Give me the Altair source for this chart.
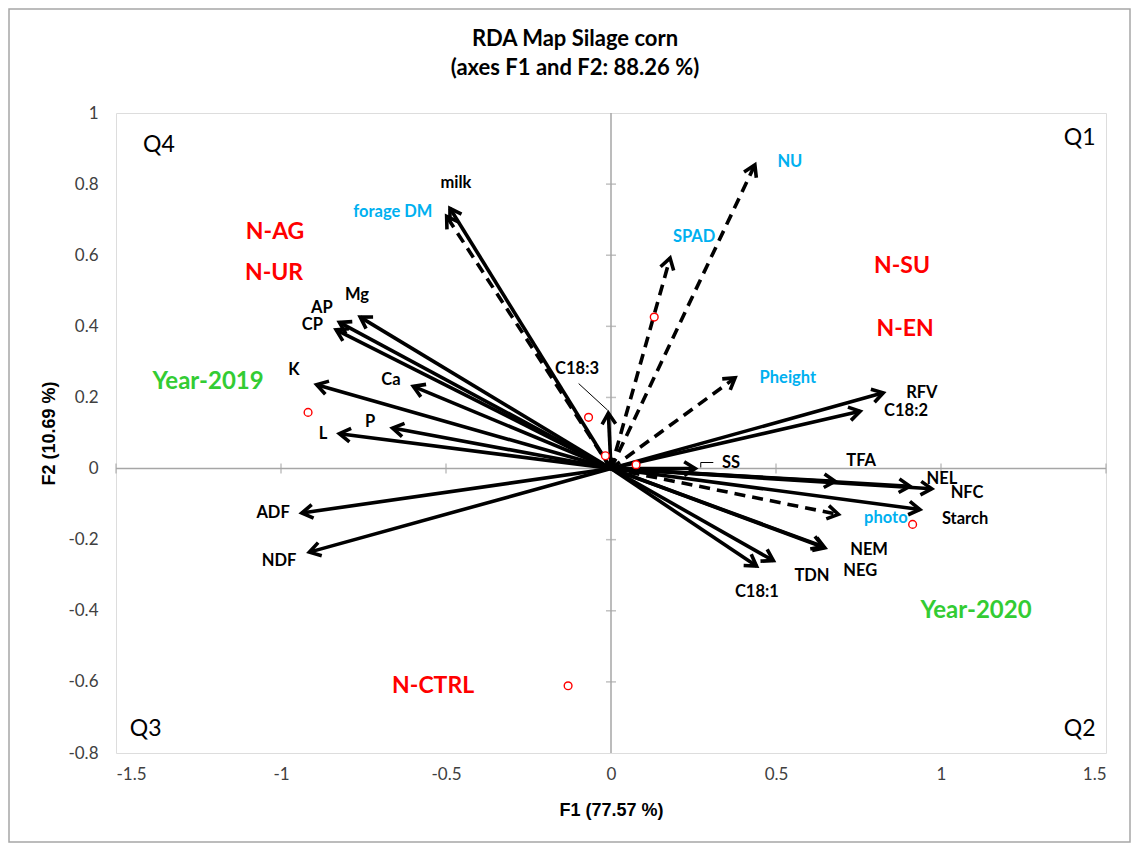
import altair as alt
import pandas as pd
import numpy as np

# ---- data ----
var_names = ["milk", "Mg", "AP", "CP", "K", "Ca", "P", "L", "C18:3", "ADF", "NDF",
             "RFV", "C18:2", "SS", "TFA", "NEL", "NFC", "Starch", "NEM", "NEG", "TDN", "C18:1",
             "forage DM", "NU", "SPAD", "Pheight", "photo"]
var_f1 = [-0.488, -0.760, -0.823, -0.833, -0.892, -0.599, -0.662, -0.823, -0.008, -0.937, -0.914,
          0.825, 0.755, 0.255, 0.679, 0.906, 0.972, 0.936, 0.648, 0.642, 0.492, 0.441,
          -0.498, 0.436, 0.179, 0.376, 0.689]
var_f2 = [0.732, 0.426, 0.411, 0.390, 0.236, 0.231, 0.114, 0.098, 0.156, -0.125, -0.235,
          0.213, 0.161, 0.000, -0.036, -0.050, -0.057, -0.115, -0.223, -0.219, -0.259, -0.274,
          0.709, 0.854, 0.592, 0.255, -0.129]
var_dashed = [False] * 22 + [True] * 5

obs_f1 = [-0.918, -0.068, -0.017, 0.131, 0.076, 0.914, -0.130]
obs_f2 = [0.158, 0.144, 0.036, 0.426, 0.011, -0.157, -0.611]

# labels: text, x, y, colour, size
lab_text = ["milk", "forage DM", "Mg", "AP", "CP", "K", "Ca", "P", "L", "C18:3", "ADF", "NDF",
            "NU", "SPAD", "Pheight", "RFV", "C18:2", "SS", "TFA", "NEL", "NFC", "photo", "Starch",
            "NEM", "NEG", "TDN", "C18:1",
            "N-AG", "N-UR", "N-SU", "N-EN", "N-CTRL", "Year-2019", "Year-2020"]
lab_x = [-0.470, -0.661, -0.770, -0.876, -0.905, -0.961, -0.667, -0.730, -0.873, -0.103, -1.024, -1.006,
         0.542, 0.252, 0.536, 0.942, 0.894, 0.364, 0.758, 1.003, 1.079, 0.833, 1.073,
         0.782, 0.755, 0.609, 0.442,
         -1.018, -1.021, 0.882, 0.891, -0.539, -1.221, 1.106]
lab_y = [0.803, 0.722, 0.489, 0.452, 0.405, 0.278, 0.250, 0.131, 0.098, 0.281, -0.126, -0.261,
         0.862, 0.652, 0.256, 0.213, 0.163, 0.017, 0.020, -0.028, -0.070, -0.138, -0.143,
         -0.228, -0.287, -0.301, -0.348,
         0.666, 0.551, 0.570, 0.393, -0.612, 0.244, -0.402]
BLK, BLU, RED, GRN = "#000000", "#00B0F0", "#FF0000", "#33CC33"
lab_color = [BLK, BLU, BLK, BLK, BLK, BLK, BLK, BLK, BLK, BLK, BLK, BLK,
             BLU, BLU, BLU, BLK, BLK, BLK, BLK, BLK, BLK, BLU, BLK,
             BLK, BLK, BLK, BLK,
             RED, RED, RED, RED, RED, GRN, GRN]
lab_size = [16.5] * 27 + [23] * 5 + [24] * 2

quad_text = ["Q4", "Q1", "Q3", "Q2"]
quad_x = [-1.37, 1.42, -1.41, 1.42]
quad_y = [0.91, 0.93, -0.733, -0.733]

# leader lines for C18:3 and SS
lead_x1 = [-0.098, 0.272, 0.272]
lead_y1 = [0.239, 0.017, 0.017]
lead_x2 = [-0.010, 0.272, 0.310]
lead_y2 = [0.164, 0.003, 0.017]

title_lines = ["RDA Map Silage corn", "(axes F1 and F2: 88.26 %)"]

xticks = [-1.5, -1, -0.5, 0, 0.5, 1, 1.5]
yticks = [-0.8, -0.6, -0.4, -0.2, 0, 0.2, 0.4, 0.6, 0.8, 1]

W, H = 990, 640
XD, YD = [-1.5, 1.5], [-0.8, 1.0]
FONT = "Lato"
AFONT = "Liberation Sans"

pxx = W / (XD[1] - XD[0])
pxy = H / (YD[1] - YD[0])

vars_df = pd.DataFrame({"name": var_names, "f1": var_f1, "f2": var_f2, "dashed": var_dashed})
vars_df["x0"] = 0.0
vars_df["y0"] = 0.0
vars_df["angle"] = np.mod(np.degrees(np.arctan2(vars_df["f1"] * pxx, vars_df["f2"] * pxy)), 360)

obs_df = pd.DataFrame({"f1": obs_f1, "f2": obs_f2})
lab_df = pd.DataFrame({"t": lab_text, "x": lab_x, "y": lab_y, "c": lab_color, "s": lab_size})
quad_df = pd.DataFrame({"t": quad_text, "x": quad_x, "y": quad_y})
lead_df = pd.DataFrame({"x": lead_x1, "y": lead_y1, "x2": lead_x2, "y2": lead_y2})
xt_df = pd.DataFrame({"v": [v for v in xticks if v != 0]})
yt_df = pd.DataFrame({"v": [v for v in yticks if v != 0 and abs(v) != 1 and v != -0.8]})

xs = alt.Scale(domain=XD, nice=False, zero=False)
ys = alt.Scale(domain=YD, nice=False, zero=False)

xaxis = alt.Axis(values=xticks, labelExpr="'' + datum.value", grid=False, ticks=False, tickSize=0,
                 domain=False, labelFont=FONT, labelFontSize=17, labelColor="#404040",
                 labelPadding=13, title="F1 (77.57 %)", titleFont=AFONT, titleFontSize=18,
                 titleFontWeight="bold", titlePadding=19, titleColor="#000000")
yaxis = alt.Axis(values=yticks, labelExpr="'' + datum.value", grid=False, ticks=False, tickSize=0,
                 domain=False, labelFont=FONT, labelFontSize=17, labelColor="#404040",
                 labelPadding=18, title="F2 (10.69 %)", titleFont=AFONT, titleFontSize=18,
                 titleFontWeight="bold", titlePadding=9, titleColor="#000000")

one = pd.DataFrame({"a": [0]})

# outer chart-area border
outer = alt.Chart(one).mark_rect(fill="white", fillOpacity=0, stroke="#A6A6A6", strokeWidth=1.5).encode(
    x=alt.value(-107), x2=alt.value(1014), y=alt.value(-104), y2=alt.value(729))

# chart title (two lines)
t1 = alt.Chart(one).mark_text(font=FONT, fontSize=22, fontWeight="bold", color="black").encode(
    x=alt.value(459), y=alt.value(-74), text=alt.value(title_lines[0]))
t2 = alt.Chart(one).mark_text(font=FONT, fontSize=22, fontWeight="bold", color="black").encode(
    x=alt.value(459), y=alt.value(-45), text=alt.value(title_lines[1]))

# zero lines
zx = alt.Chart(one).mark_rule(color="#A6A6A6", strokeWidth=1.5).encode(
    x=alt.datum(0, type="quantitative", scale=xs, axis=xaxis), y=alt.value(0), y2=alt.value(H))
zy = alt.Chart(one).mark_rule(color="#A6A6A6", strokeWidth=1.5).encode(
    y=alt.datum(0, type="quantitative", scale=ys, axis=yaxis), x=alt.value(0), x2=alt.value(W))

tick_x = alt.Chart(xt_df).mark_tick(orient="vertical", size=10, thickness=1.5, color="#A6A6A6").encode(
    x=alt.X("v:Q", scale=xs), y=alt.datum(0, type="quantitative", scale=ys))
tick_y = alt.Chart(yt_df).mark_tick(orient="horizontal", size=10, thickness=1.5, color="#A6A6A6").encode(
    y=alt.Y("v:Q", scale=ys), x=alt.datum(0, type="quantitative", scale=xs))

solid = alt.Chart(vars_df[~vars_df["dashed"]]).mark_rule(color="black", strokeWidth=3.6).encode(
    x=alt.X("x0:Q", scale=xs), y=alt.Y("y0:Q", scale=ys), x2="f1:Q", y2="f2:Q")
dashed = alt.Chart(vars_df[vars_df["dashed"]]).mark_rule(color="black", strokeWidth=3.6,
                                                         strokeDash=[11, 7]).encode(
    x=alt.X("x0:Q", scale=xs), y=alt.Y("y0:Q", scale=ys), x2="f1:Q", y2="f2:Q")

heads = alt.Chart(vars_df).mark_point(shape="M -0.62 1 L 0 0 L 0.62 1", filled=False, color="black",
                                      strokeWidth=3.6, size=480, opacity=1, strokeJoin="miter").encode(
    x=alt.X("f1:Q", scale=xs), y=alt.Y("f2:Q", scale=ys), angle=alt.Angle("angle:Q", scale=None))

leads = alt.Chart(lead_df).mark_rule(color="black", strokeWidth=1).encode(
    x=alt.X("x:Q", scale=xs), y=alt.Y("y:Q", scale=ys), x2="x2:Q", y2="y2:Q")

obs = alt.Chart(obs_df).mark_point(shape="circle", filled=True, fill="white", stroke="#FF0000",
                                   strokeWidth=1.4, size=60, opacity=1).encode(
    x=alt.X("f1:Q", scale=xs), y=alt.Y("f2:Q", scale=ys))

labels = alt.Chart(lab_df).mark_text(font=FONT, fontWeight="bold").encode(
    x=alt.X("x:Q", scale=xs), y=alt.Y("y:Q", scale=ys), text="t:N",
    color=alt.Color("c:N", scale=None), size=alt.Size("s:Q", scale=None))

quads = alt.Chart(quad_df).mark_text(font=FONT, fontSize=23, color="black").encode(
    x=alt.X("x:Q", scale=xs), y=alt.Y("y:Q", scale=ys), text="t:N")

chart = alt.layer(
    outer, t1, t2, zx, zy, tick_x, tick_y, solid, dashed, heads, leads, obs, labels, quads
).properties(
    width=W, height=H,
    autosize=alt.AutoSizeParams(type="none"),
    padding={"left": 108, "top": 105, "right": 26, "bottom": 90},
).configure_view(stroke="#A6A6A6", strokeWidth=1.5).configure(background="white")

chart.save("out.html", embed_options={"renderer": "svg", "actions": False})
